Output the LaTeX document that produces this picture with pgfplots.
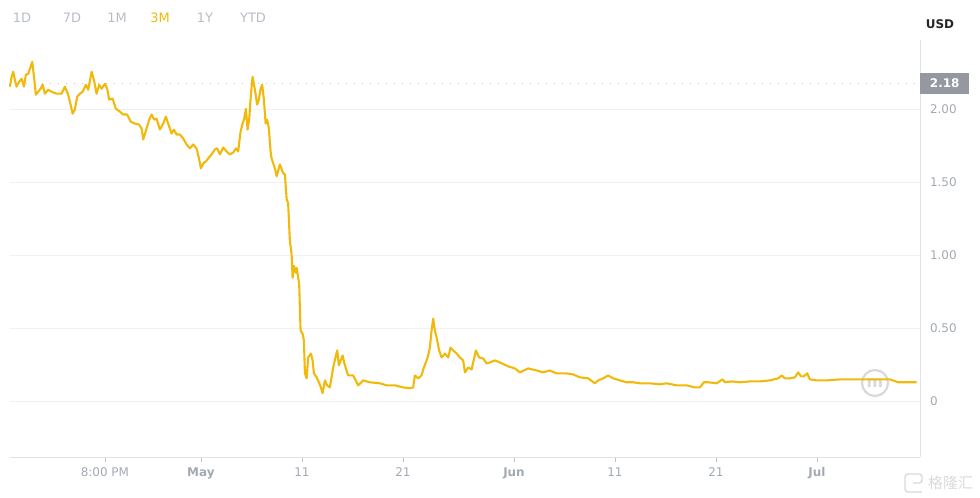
\documentclass[border=0pt]{standalone}
\usepackage{fontspec}
\setmainfont{DejaVu Sans}
\newfontfamily\cjk{Noto Sans CJK SC}
\usepackage{pgfplots}
\pgfplotsset{compat=1.18}

\definecolor{linegold}{HTML}{F0B90B}
\definecolor{gridgray}{HTML}{EFF0F2}
\definecolor{axisgray}{HTML}{E0E3EB}
\definecolor{labgray}{HTML}{A3A9B3}
\definecolor{btngray}{HTML}{B7BDC6}
\definecolor{boxgray}{HTML}{9598A1}
\definecolor{wmgray}{HTML}{D9D9D9}

\begin{document}
\begin{tikzpicture}[x=1bp,y=1bp]
\useasboundingbox (0,0) rectangle (980,498);

% range buttons
\foreach \lab/\xx in {1D/22,7D/72,1M/117,1Y/205,YTD/253}
  \node[text=btngray, font=\fontsize{13}{15}\selectfont] at (\xx,480) {\lab};
\node[text=linegold, font=\fontsize{13}{15}\selectfont] at (160,480) {3M};
\node[text=black!85, font=\bfseries\fontsize{12}{14}\selectfont] at (940,474) {USD};

% watermarks
\draw[wmgray, line width=2.2bp] (875,115) circle (13);
\node[text=wmgray, font=\bfseries\fontsize{16}{16}\selectfont] at (875,115) {m};
\draw[wmgray, line width=1.4bp, rounded corners=3] (922,6) -- (905,6) -- (905,24) -- (922,24) -- (922,15) -- (913,15);
\node[text=wmgray, font=\cjk\fontsize{15}{16}\selectfont, anchor=west, inner sep=0pt] at (928,15) {格隆汇};

\begin{axis}[
  at={(10bp,41bp)}, anchor=south west,
  scale only axis, width=910bp, height=417bp,
  xmin=-18.9, xmax=71.2,
  ymin=-0.382, ymax=2.476,
  axis x line=bottom, axis y line=right,
  axis line style={draw=axisgray, line width=0.8bp, -},
  every outer x axis line/.append style={-},
  every outer y axis line/.append style={-},
  ytick={0,0.5,1,1.5,2},
  yticklabels={0,0.50,1.00,1.50,2.00},
  ymajorgrids, grid style={gridgray, line width=0.8bp},
  ytick style={draw=none},
  yticklabel style={anchor=west, text=labgray, font=\fontsize{12}{14}\selectfont, xshift=4bp},
  xtick={-9.5,0,10,20,31,41,51,61},
  xticklabels={8:00 PM,\textbf{May},11,21,\textbf{Jun},11,21,\textbf{Jul}},
  xtick align=outside, major tick length=5bp,
  xtick style={draw=labgray!70, line width=0.6bp},
  xticklabel style={text=labgray, font=\fontsize{12}{14}\selectfont, yshift=-2bp},
  clip=false,
]
\addplot[draw=gray!45, line width=0.8bp, dash pattern=on 1bp off 7bp] coordinates {(-18.9,2.18) (71.2,2.18)};
\addplot[linegold, line width=2.1bp, line join=round] coordinates {
(-18.91,2.156) (-18.74,2.224) (-18.58,2.258) (-18.42,2.203) (-18.25,2.156) (-17.99,2.190)
(-17.75,2.210) (-17.52,2.156) (-17.33,2.237) (-17.10,2.244) (-16.93,2.278) (-16.70,2.326)
(-16.50,2.210) (-16.34,2.101) (-16.11,2.121) (-15.87,2.142) (-15.67,2.169) (-15.45,2.108)
(-15.12,2.135) (-14.78,2.121) (-14.29,2.108) (-13.79,2.108) (-13.47,2.156) (-13.14,2.101)
(-12.90,2.033) (-12.70,1.971) (-12.48,1.999) (-12.25,2.087) (-11.98,2.108) (-11.71,2.121)
(-11.39,2.169) (-11.16,2.135) (-10.82,2.258) (-10.59,2.203) (-10.33,2.108) (-10.07,2.169)
(-9.83,2.142) (-9.50,2.176) (-9.28,2.142) (-9.08,2.067) (-8.74,2.074) (-8.42,2.005)
(-8.02,1.985) (-7.69,1.965) (-7.30,1.965) (-6.96,1.917) (-6.53,1.903) (-6.11,1.896)
(-5.87,1.869) (-5.71,1.794) (-5.38,1.869) (-5.12,1.930) (-4.88,1.965) (-4.62,1.930)
(-4.39,1.937) (-4.06,1.862) (-3.73,1.903) (-3.47,1.951) (-3.24,1.903) (-2.90,1.835)
(-2.67,1.862) (-2.41,1.828) (-2.08,1.828) (-1.75,1.801) (-1.42,1.760) (-1.09,1.733)
(-0.76,1.760) (-0.43,1.733) (-0.17,1.658) (0.00,1.596) (0.23,1.630) (0.50,1.644)
(0.72,1.664) (1.06,1.692) (1.39,1.726) (1.61,1.733) (1.88,1.692) (2.21,1.739)
(2.54,1.712) (2.87,1.692) (3.20,1.705) (3.47,1.733) (3.69,1.712) (3.93,1.849)
(4.13,1.903) (4.29,1.937) (4.46,2.005) (4.62,1.862) (4.78,1.930) (4.95,2.101)
(5.12,2.224) (5.35,2.135) (5.57,2.033) (5.74,2.067) (5.91,2.142) (6.07,2.169)
(6.24,2.067) (6.41,1.903) (6.56,1.930) (6.73,1.869) (6.90,1.712) (7.00,1.664)
(7.33,1.596) (7.50,1.542) (7.82,1.623) (8.15,1.562) (8.32,1.555) (8.49,1.385)
(8.64,1.357) (8.81,1.098) (8.98,1.010) (9.08,0.846) (9.21,0.928) (9.41,0.880)
(9.48,0.914) (9.73,0.805) (9.87,0.484) (10.07,0.464) (10.20,0.416) (10.30,0.191)
(10.47,0.157) (10.62,0.300) (10.89,0.327) (11.06,0.280) (11.19,0.191) (11.46,0.164)
(11.68,0.130) (11.88,0.095) (12.05,0.055) (12.28,0.143) (12.50,0.109) (12.77,0.095)
(13.10,0.232) (13.37,0.314) (13.50,0.348) (13.66,0.246) (14.03,0.314) (14.26,0.246)
(14.58,0.177) (15.08,0.177) (15.57,0.109) (16.07,0.143) (16.73,0.130) (17.72,0.123)
(18.39,0.109) (19.21,0.109) (20.03,0.095) (20.69,0.089) (21.02,0.095) (21.19,0.177)
(21.51,0.157) (21.85,0.177) (22.08,0.232) (22.35,0.280) (22.50,0.314) (22.67,0.368)
(22.84,0.484) (23.00,0.566) (23.17,0.484) (23.34,0.437) (23.59,0.348) (23.83,0.300)
(24.16,0.327) (24.49,0.300) (24.72,0.368) (24.98,0.348) (25.32,0.327) (25.64,0.300)
(25.97,0.280) (26.14,0.198) (26.47,0.232) (26.80,0.218) (27.23,0.348) (27.55,0.300)
(27.95,0.293) (28.29,0.259) (28.61,0.266) (29.11,0.280) (29.60,0.266) (30.43,0.239)
(31.09,0.225) (31.58,0.198) (32.41,0.225) (33.24,0.211) (33.89,0.198) (34.55,0.211)
(35.22,0.191) (36.21,0.191) (36.86,0.184) (37.52,0.164) (38.35,0.157) (39.01,0.123)
(39.34,0.143) (39.83,0.157) (40.33,0.177) (40.82,0.157) (41.49,0.143) (42.15,0.130)
(42.80,0.130) (43.47,0.123) (44.46,0.123) (45.45,0.116) (46.11,0.123) (47.10,0.109)
(48.09,0.109) (48.91,0.095) (49.41,0.095) (49.80,0.130) (50.23,0.130) (51.06,0.123)
(51.65,0.150) (51.88,0.130) (52.54,0.136) (53.37,0.130) (54.36,0.136) (55.35,0.136)
(56.34,0.143) (57.16,0.157) (57.50,0.177) (57.82,0.157) (58.32,0.157) (58.81,0.164)
(59.14,0.198) (59.41,0.171) (59.70,0.171) (60.03,0.191) (60.30,0.150) (60.96,0.143)
(61.95,0.143) (63.27,0.150) (64.59,0.150) (65.91,0.150) (67.23,0.150) (68.22,0.150)
(69.04,0.130) (69.87,0.130) (70.86,0.130)
};
\node[fill=boxgray, text=white, anchor=west, inner sep=0pt, minimum width=49bp, minimum height=21bp,
  font=\bfseries\fontsize{12}{14}\selectfont] at (axis cs:71.2,2.18) {2.18};
\end{axis}
\end{tikzpicture}
\end{document}
